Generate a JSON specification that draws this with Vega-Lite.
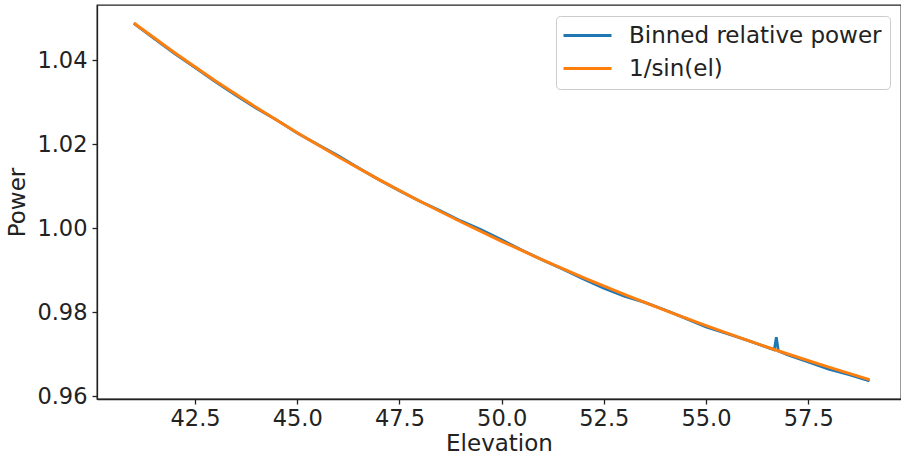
{
  "$schema": "https://vega.github.io/schema/vega-lite/v6.json",
  "width": 804,
  "height": 394,
  "autosize": {"type": "none"},
  "padding": {"left": 97, "top": 5, "right": 0, "bottom": 60},
  "background": "white",
  "config": {
    "font": "DejaVu Sans",
    "view": {"stroke": "#222", "strokeWidth": 1.3},
    "axis": {
      "grid": false,
      "domainColor": "#222",
      "domainWidth": 1.3,
      "tickColor": "#222",
      "tickWidth": 1.3,
      "tickSize": 5,
      "labelFont": "DejaVu Sans",
      "labelFontSize": 22.5,
      "labelColor": "#222",
      "titleFont": "DejaVu Sans",
      "titleFontSize": 23,
      "titleFontWeight": "normal",
      "titleColor": "#222"
    },
    "legend": {
      "labelFont": "DejaVu Sans",
      "labelFontSize": 23,
      "labelColor": "#222",
      "labelLimit": 500
    }
  },
  "datasets": {
    "pts": [
      {"el": 41.0, "power": 1.0487, "series": "Binned relative power"},
      {"el": 41.5, "power": 1.0451, "series": "Binned relative power"},
      {"el": 42.0, "power": 1.0415, "series": "Binned relative power"},
      {"el": 42.5, "power": 1.0382, "series": "Binned relative power"},
      {"el": 43.0, "power": 1.0348, "series": "Binned relative power"},
      {"el": 43.5, "power": 1.0316, "series": "Binned relative power"},
      {"el": 44.0, "power": 1.0285, "series": "Binned relative power"},
      {"el": 44.5, "power": 1.0257, "series": "Binned relative power"},
      {"el": 45.0, "power": 1.0226, "series": "Binned relative power"},
      {"el": 45.5, "power": 1.0199, "series": "Binned relative power"},
      {"el": 46.0, "power": 1.0172, "series": "Binned relative power"},
      {"el": 46.5, "power": 1.0143, "series": "Binned relative power"},
      {"el": 47.0, "power": 1.0115, "series": "Binned relative power"},
      {"el": 47.5, "power": 1.0089, "series": "Binned relative power"},
      {"el": 48.0, "power": 1.0064, "series": "Binned relative power"},
      {"el": 48.5, "power": 1.0041, "series": "Binned relative power"},
      {"el": 49.0, "power": 1.0017, "series": "Binned relative power"},
      {"el": 49.5, "power": 0.9996, "series": "Binned relative power"},
      {"el": 50.0, "power": 0.9972, "series": "Binned relative power"},
      {"el": 50.5, "power": 0.9947, "series": "Binned relative power"},
      {"el": 51.0, "power": 0.9924, "series": "Binned relative power"},
      {"el": 51.5, "power": 0.9902, "series": "Binned relative power"},
      {"el": 52.0, "power": 0.9879, "series": "Binned relative power"},
      {"el": 52.5, "power": 0.9857, "series": "Binned relative power"},
      {"el": 53.0, "power": 0.9838, "series": "Binned relative power"},
      {"el": 53.5, "power": 0.9823, "series": "Binned relative power"},
      {"el": 54.0, "power": 0.9805, "series": "Binned relative power"},
      {"el": 54.5, "power": 0.9785, "series": "Binned relative power"},
      {"el": 55.0, "power": 0.97645, "series": "Binned relative power"},
      {"el": 55.5, "power": 0.9749, "series": "Binned relative power"},
      {"el": 56.0, "power": 0.9733, "series": "Binned relative power"},
      {"el": 56.5, "power": 0.9716, "series": "Binned relative power"},
      {"el": 56.67, "power": 0.9710, "series": "Binned relative power"},
      {"el": 56.72, "power": 0.9740, "series": "Binned relative power"},
      {"el": 56.77, "power": 0.9707, "series": "Binned relative power"},
      {"el": 57.0, "power": 0.9698, "series": "Binned relative power"},
      {"el": 57.5, "power": 0.9681, "series": "Binned relative power"},
      {"el": 58.0, "power": 0.9664, "series": "Binned relative power"},
      {"el": 58.5, "power": 0.9651, "series": "Binned relative power"},
      {"el": 59.0, "power": 0.9636, "series": "Binned relative power"},
      {"el": 41.0, "power": 1.04880, "series": "1/sin(el)"},
      {"el": 42.0, "power": 1.04173, "series": "1/sin(el)"},
      {"el": 43.0, "power": 1.03503, "series": "1/sin(el)"},
      {"el": 44.0, "power": 1.02869, "series": "1/sin(el)"},
      {"el": 45.0, "power": 1.02267, "series": "1/sin(el)"},
      {"el": 46.0, "power": 1.01696, "series": "1/sin(el)"},
      {"el": 47.0, "power": 1.01154, "series": "1/sin(el)"},
      {"el": 48.0, "power": 1.00639, "series": "1/sin(el)"},
      {"el": 49.0, "power": 1.00150, "series": "1/sin(el)"},
      {"el": 50.0, "power": 0.99684, "series": "1/sin(el)"},
      {"el": 51.0, "power": 0.99242, "series": "1/sin(el)"},
      {"el": 52.0, "power": 0.98820, "series": "1/sin(el)"},
      {"el": 53.0, "power": 0.98420, "series": "1/sin(el)"},
      {"el": 54.0, "power": 0.98038, "series": "1/sin(el)"},
      {"el": 55.0, "power": 0.97675, "series": "1/sin(el)"},
      {"el": 56.0, "power": 0.97330, "series": "1/sin(el)"},
      {"el": 57.0, "power": 0.97001, "series": "1/sin(el)"},
      {"el": 58.0, "power": 0.96688, "series": "1/sin(el)"},
      {"el": 59.0, "power": 0.96390, "series": "1/sin(el)"}
    ]
  },
  "data": {"name": "pts"},
  "encoding": {
    "x": {
      "field": "el", "type": "quantitative",
      "scale": {"domain": [40.1, 59.77], "nice": false, "zero": false},
      "axis": {"title": "Elevation", "values": [42.5, 45, 47.5, 50, 52.5, 55, 57.5], "format": ".1f", "labelPadding": 3, "titlePadding": 3, "labelFlush": false}
    },
    "y": {
      "field": "power", "type": "quantitative",
      "scale": {"domain": [0.9593, 1.0531], "nice": false, "zero": false},
      "axis": {"title": "Power", "values": [0.96, 0.98, 1.0, 1.02, 1.04], "format": ".2f", "labelPadding": 5, "titlePadding": 7, "labelFlush": false}
    },
    "color": {
      "field": "series", "type": "nominal",
      "scale": {"domain": ["Binned relative power", "1/sin(el)"], "range": ["#1f77b4", "#ff7f0e"]},
      "legend": {
        "title": null,
        "orient": "none",
        "legendX": 459,
        "legendY": 11,
        "symbolType": "M-2.4,0H2.4",
        "symbolStrokeWidth": 3,
        "symbolSize": 400,
        "symbolOffset": 12,
        "labelOffset": 30,
        "padding": 8,
        "rowPadding": 9,
        "strokeColor": "#cccccc",
        "fillColor": "white",
        "cornerRadius": 4
      }
    }
  },
  "layer": [
    {
      "transform": [{"filter": "datum.series === 'Binned relative power'"}],
      "mark": {"type": "line", "strokeWidth": 2.8}
    },
    {
      "transform": [{"filter": "datum.series === '1/sin(el)'"}],
      "mark": {"type": "line", "strokeWidth": 3}
    }
  ]
}
